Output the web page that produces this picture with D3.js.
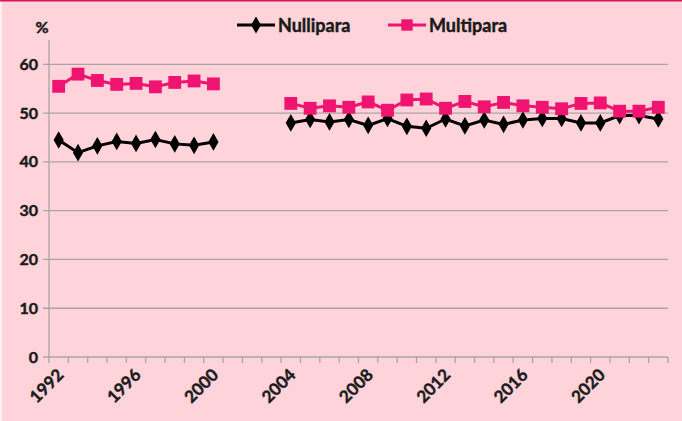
<!DOCTYPE html>
<html>
<head>
<meta charset="utf-8">
<script src="https://cdn.jsdelivr.net/npm/d3@7"></script>
<style>
  body { margin: 0; background: #ffd3da; }
  svg { display: block; font-family: Lato, "Liberation Sans", sans-serif; font-weight: bold; }
  .lbl { stroke: #1a1a1a; stroke-width: 0.45px; fill: #1a1a1a; }
</style>
</head>
<body>
<div id="chart"></div>
<script>
// data
let years = [1992, 1993, 1994, 1995, 1996, 1997, 1998, 1999, 2000, 2001, 2002,
    2003, 2004, 2005, 2006, 2007, 2008, 2009, 2010, 2011, 2012, 2013, 2014,
    2015, 2016, 2017, 2018, 2019, 2020, 2021, 2022, 2023];

let nullipara = [44.5, 41.9, 43.3, 44.2, 43.8, 44.6, 43.7, 43.4, 44.1, null, null,
    null, 48.0, 48.7, 48.2, 48.7, 47.5, 48.9, 47.3, 46.9, 48.8, 47.4, 48.6,
    47.7, 48.6, 48.9, 48.9, 48.0, 48.0, 49.5, 49.5, 48.8];

let multipara = [55.5, 58.0, 56.7, 55.9, 56.1, 55.4, 56.3, 56.6, 56.0, null, null,
    null, 52.0, 51.0, 51.5, 51.2, 52.3, 50.6, 52.7, 52.9, 51.0, 52.4, 51.3,
    52.2, 51.5, 51.2, 50.9, 52.0, 52.1, 50.4, 50.4, 51.2];

let yTicks = [0, 10, 20, 30, 40, 50, 60];
let xLabels = ["1992", "1996", "2000", "2004", "2008", "2012", "2016", "2020"];

// svg params
let svgWidth = 682;
let svgHeight = 421;
let margin = { top: 40, right: 14, bottom: 64, left: 49 };

let svg = d3.select("#chart")
    .append("svg")
    .attr("width", svgWidth)
    .attr("height", svgHeight);

svg.append("rect")
    .attr("width", svgWidth)
    .attr("height", svgHeight)
    .attr("fill", "#ffd3da");
svg.append("rect").attr("width", 2).attr("height", svgHeight).attr("fill", "#fff0f2");
svg.append("rect").attr("width", svgWidth).attr("height", 1.5).attr("fill", "#d0175a");

let xScale = d3.scaleBand()
    .domain(years)
    .range([margin.left, svgWidth - margin.right]);

let yScale = d3.scaleLinear()
    .domain([0, 65])
    .range([svgHeight - margin.bottom, margin.top]);

let cx = d => xScale(d) + xScale.bandwidth() / 2;
let grid = "#a8a4a6";

// gridlines + y ticks
svg.append("g")
    .selectAll("line")
    .data(yTicks)
    .enter()
    .append("line")
    .attr("x1", margin.left - 6)
    .attr("x2", svgWidth - margin.right)
    .attr("y1", d => yScale(d))
    .attr("y2", d => yScale(d))
    .attr("stroke", grid)
    .attr("stroke-width", 1.3);

svg.append("g")
    .selectAll("text")
    .data(yTicks)
    .enter()
    .append("text")
    .attr("class", "lbl")
    .attr("x", margin.left - 11)
    .attr("y", d => yScale(d) + 5.5)
    .attr("text-anchor", "end")
    .attr("font-size", "16px")
    .text(d => d);

// y axis line
svg.append("line")
    .attr("x1", margin.left).attr("x2", margin.left)
    .attr("y1", yScale(65)).attr("y2", yScale(0))
    .attr("stroke", grid).attr("stroke-width", 1.3);

// x tick marks between categories
let tickPos = years.map(d => xScale(d)).concat([svgWidth - margin.right]);
svg.append("g")
    .selectAll("line")
    .data(tickPos)
    .enter()
    .append("line")
    .attr("x1", d => d).attr("x2", d => d)
    .attr("y1", yScale(0)).attr("y2", yScale(0) + 6)
    .attr("stroke", grid).attr("stroke-width", 1.3);

// x labels
svg.append("g")
    .selectAll("text")
    .data(xLabels)
    .enter()
    .append("text")
    .attr("class", "lbl")
    .attr("transform", d => `translate(${cx(+d) + 6}, ${yScale(0) + 19}) rotate(-45)`)
    .attr("text-anchor", "end")
    .attr("font-size", "17px")
    .text(d => d);

svg.append("text")
    .attr("class", "lbl")
    .attr("x", 42).attr("y", 33)
    .attr("text-anchor", "middle")
    .attr("font-size", "16px")
    .text("%");

// series
let pink = "#ee1470";
let series = [
    { name: "Nullipara", values: nullipara, color: "#000000", shape: d3.symbolDiamond, size: 90 },
    { name: "Multipara", values: multipara, color: pink, shape: d3.symbolSquare, size: 165 }
];

let line = d3.line()
    .defined(d => d.v != null)
    .x(d => cx(d.year))
    .y(d => yScale(d.v));

series.forEach(function (s) {
    let pts = years.map((y, i) => ({ year: y, v: s.values[i] }));
    svg.append("path")
        .datum(pts)
        .attr("d", line)
        .attr("fill", "none")
        .attr("stroke", s.color)
        .attr("stroke-width", 3);
    svg.append("g")
        .selectAll("path")
        .data(pts.filter(d => d.v != null))
        .enter()
        .append("path")
        .attr("transform", d => `translate(${cx(d.year)}, ${yScale(d.v)})`)
        .attr("d", d3.symbol().type(s.shape).size(s.size))
        .attr("fill", s.color);
});

// legend
let legendX = [237, 388];
series.forEach(function (s, i) {
    let g = svg.append("g").attr("transform", `translate(${legendX[i]}, 25)`);
    g.append("line")
        .attr("x1", 0).attr("x2", 38)
        .attr("stroke", s.color).attr("stroke-width", 3);
    g.append("path")
        .attr("transform", "translate(19, 0)")
        .attr("d", d3.symbol().type(s.shape).size(s.shape === d3.symbolSquare ? 130 : 85))
        .attr("fill", s.color);
    g.append("text")
        .attr("class", "lbl")
        .attr("x", 41).attr("y", 6.5)
        .attr("font-size", "18px")
        .text(s.name);
});
</script>
</body>
</html>
